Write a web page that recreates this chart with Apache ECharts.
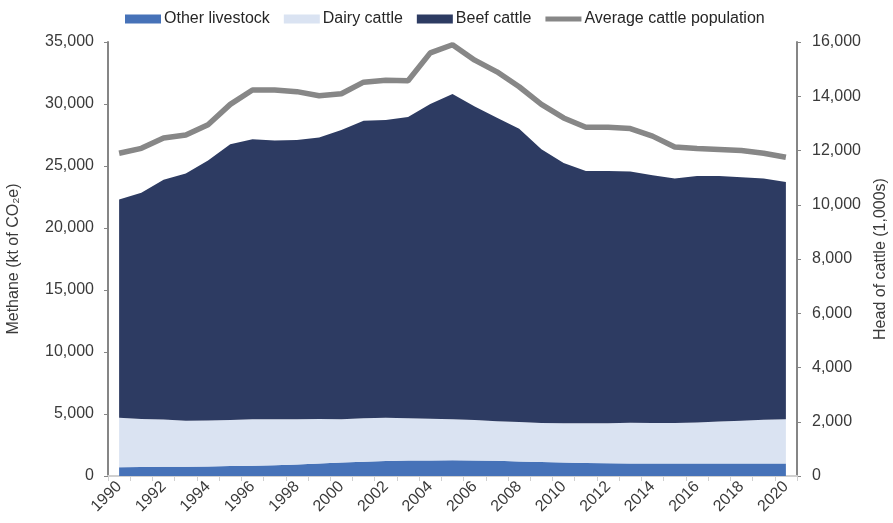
<!DOCTYPE html>
<html lang="en">
<head>
    <meta charset="utf-8">
    <title>Methane from livestock</title>
    <script src="https://cdn.jsdelivr.net/npm/echarts@6/dist/echarts.min.js"></script>
    <style>
        body { margin: 0; background: #fff; }
    </style>
</head>
<body>
<div id="main" style="width: 893px;height:523px;"></div>

<script>
    let years = ['1990', '1991', '1992', '1993', '1994', '1995', '1996', '1997', '1998', '1999',
        '2000', '2001', '2002', '2003', '2004', '2005', '2006', '2007', '2008', '2009',
        '2010', '2011', '2012', '2013', '2014', '2015', '2016', '2017', '2018', '2019', '2020'];

    // kt CO2e
    let otherLivestock = [700, 720, 740, 740, 760, 800, 820, 860, 920, 1000,
        1080, 1150, 1200, 1250, 1250, 1280, 1250, 1220, 1170, 1120,
        1080, 1050, 1020, 1000, 1000, 1000, 1000, 1000, 1000, 1000, 1000];
    let dairyCattle = [4000, 3880, 3810, 3710, 3720, 3720, 3750, 3710, 3650, 3600,
        3500, 3500, 3500, 3410, 3370, 3300, 3270, 3200, 3180, 3160,
        3170, 3200, 3230, 3300, 3280, 3280, 3320, 3400, 3460, 3530, 3570];
    let beefCattle = [17600, 18250, 19350, 19950, 20970, 22230, 22580, 22480, 22530, 22700,
        23320, 24000, 24000, 24290, 25380, 26220, 25280, 24480, 23650, 22070,
        21000, 20350, 20350, 20250, 19970, 19720, 19880, 19800, 19640, 19470, 19130];

    // 1,000s head
    let cattlePopulation = [11900, 12080, 12460, 12570, 12950, 13700, 14230, 14230, 14170, 14020,
        14090, 14520, 14590, 14570, 15600, 15900, 15330, 14900, 14350, 13700,
        13200, 12860, 12860, 12810, 12530, 12130, 12070, 12040, 12000, 11900, 11750];

    let textColor = '#3a3a3a';
    let fontFamily = 'Liberation Sans, Arial, sans-serif';

    let myChart = echarts.init(document.getElementById('main'));

    function fmt(v) {
        return String(v).replace(/\B(?=(\d{3})+(?!\d))/g, ',');
    }

    let option = {
        animation: false,
        textStyle: {fontFamily: fontFamily, color: textColor},
        legend: {
            top: 6,
            left: 120,
            itemWidth: 36,
            itemHeight: 9,
            itemGap: 14,
            symbolKeepAspect: true,
            textStyle: {fontSize: 16, color: '#262626', padding: [0, 0, 0, -2]},
            data: [
                {name: 'Other livestock', icon: 'rect'},
                {name: 'Dairy cattle', icon: 'rect'},
                {name: 'Beef cattle', icon: 'rect'},
                {name: 'Average cattle population', icon: 'path://M0,0 L36,0 L36,5 L0,5 Z'}
            ]
        },
        grid: {
            left: 108,
            right: 96,
            top: 42,
            bottom: 47,
            containLabel: false,
            outerBoundsMode: 'none'
        },
        xAxis: [
            {
                type: 'category',
                boundaryGap: true,
                data: years,
                axisLine: {lineStyle: {color: '#d0d0d0', width: 2}},
                axisTick: {show: true, interval: 0, length: 5, lineStyle: {color: '#d0d0d0', width: 1}},
                axisLabel: {interval: 1, rotate: 45, fontSize: 16, color: textColor, margin: 8}
            }
        ],
        yAxis: [
            {
                type: 'value',
                min: 0,
                max: 35000,
                interval: 5000,
                name: 'Methane (kt of CO₂e)',
                nameLocation: 'middle',
                nameGap: 86,
                nameTextStyle: {fontSize: 16, color: textColor},
                splitLine: {show: false},
                axisLine: {show: true, lineStyle: {color: '#868686', width: 2}},
                axisTick: {show: true, length: 4, lineStyle: {color: '#868686'}},
                axisLabel: {fontSize: 16, color: textColor, margin: 14, formatter: fmt}
            },
            {
                type: 'value',
                min: 0,
                max: 16000,
                interval: 2000,
                name: 'Head of cattle (1,000s)',
                nameLocation: 'middle',
                nameGap: 76,
                nameRotate: 90,
                nameTextStyle: {fontSize: 16, color: textColor},
                splitLine: {show: false},
                axisLine: {show: true, lineStyle: {color: '#868686', width: 2}},
                axisTick: {show: true, length: 4, lineStyle: {color: '#868686'}},
                axisLabel: {fontSize: 16, color: textColor, margin: 15, formatter: fmt}
            }
        ],
        series: [
            {
                name: 'Other livestock',
                type: 'line',
                stack: 'methane',
                data: otherLivestock,
                symbol: 'none',
                lineStyle: {width: 0},
                itemStyle: {color: '#4672b8'},
                areaStyle: {color: '#4672b8', opacity: 1}
            },
            {
                name: 'Dairy cattle',
                type: 'line',
                stack: 'methane',
                data: dairyCattle,
                symbol: 'none',
                lineStyle: {width: 0},
                itemStyle: {color: '#dae3f2'},
                areaStyle: {color: '#dae3f2', opacity: 1}
            },
            {
                name: 'Beef cattle',
                type: 'line',
                stack: 'methane',
                data: beefCattle,
                symbol: 'none',
                lineStyle: {width: 0},
                itemStyle: {color: '#2d3b62'},
                areaStyle: {color: '#2d3b62', opacity: 1}
            },
            {
                name: 'Average cattle population',
                type: 'line',
                yAxisIndex: 1,
                data: cattlePopulation,
                symbol: 'none',
                itemStyle: {color: '#878787'},
                lineStyle: {color: '#878787', width: 5.5}
            }
        ]
    };
    myChart.setOption(option);
</script>
</body>
</html>
